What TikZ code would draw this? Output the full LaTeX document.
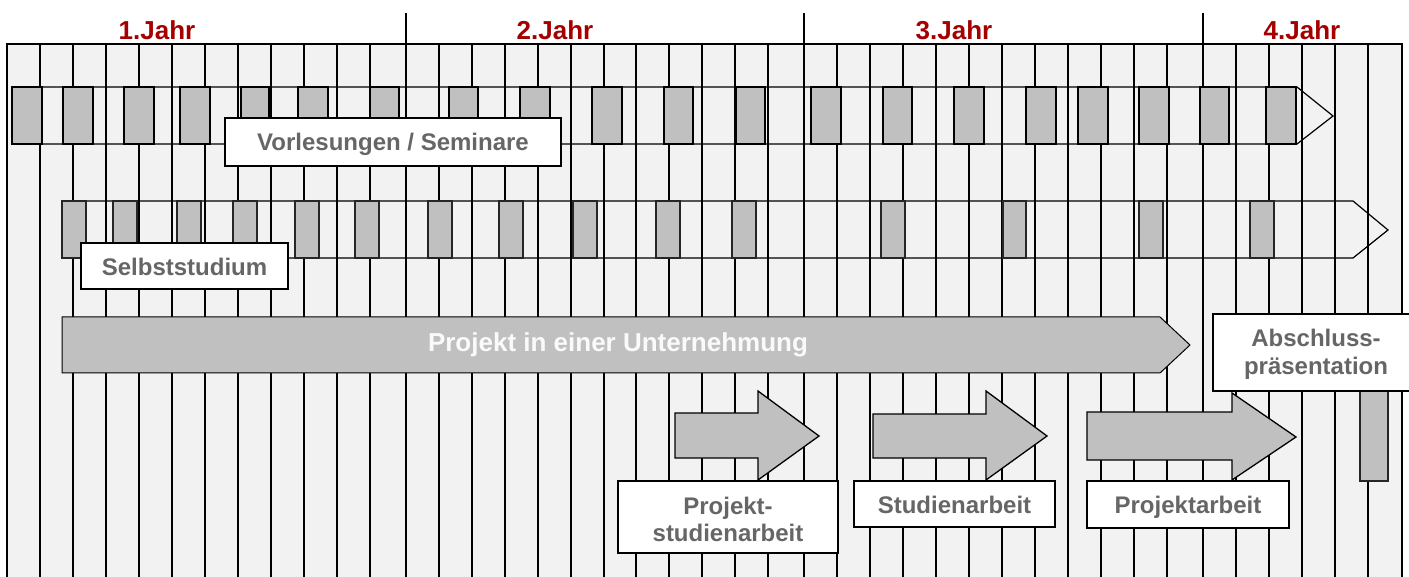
\documentclass[tikz,border=0pt]{standalone}
\usepackage{fontspec}
\setmainfont{Liberation Sans}
\definecolor{bggray}{HTML}{F2F2F2}
\definecolor{boxgray}{HTML}{C0C0C0}
\definecolor{labelgray}{HTML}{666666}
\definecolor{yearred}{HTML}{A50000}
\tikzset{
  gridline/.style={line width=1.5pt},
  bandline/.style={draw=black, line width=1.2pt, line join=miter},
  slotA/.style={fill=boxgray, draw=black, line width=1.8pt},
  slotB/.style={fill=boxgray, draw=black!85, line width=1.5pt},
  lbl/.style={draw=black, fill=white, line width=1.5pt, inner sep=0pt},
  lbltext/.style={text=labelgray, font=\fontsize{24}{27}\selectfont\bfseries, inner sep=0pt, anchor=base},
  yearlbl/.style={text=yearred, font=\fontsize{26}{30}\selectfont\bfseries, inner sep=0pt, anchor=base},
  blockarrow/.style={fill=boxgray, draw=black, line width=1.3pt, line join=miter}
}
\begin{document}
\begin{tikzpicture}[x=1pt,y=-1pt]
\useasboundingbox (0,0) rectangle (1409,577);
\clip (0,0) rectangle (1409,577);
% background grid
\fill[bggray] (7,44) rectangle (1402,600);
\foreach \x in {40,73,106,139,172,205,238,271,304,337,370,439,472,505,538,571,604,636,669,702,735,768,837,870,903,936,969,1002,1035,1068,1101,1134,1167,1236,1269,1302,1335,1368}
  \draw[gridline] (\x,44) -- (\x,600);
\foreach \x in {406,804,1203}
  \draw[gridline] (\x,13) -- (\x,600);
\draw[gridline] (7,600) -- (7,44) -- (1402,44) -- (1402,600);
% year labels
\node[yearlbl] (y1) at (157,39.5) {1.Jahr};
\node[yearlbl] (y2) at (555,39.5) {2.Jahr};
\node[yearlbl] (y3) at (954,39.5) {3.Jahr};
\node[yearlbl] (y4) at (1302,39.5) {4.Jahr};
% row 1 band
\draw[bandline] (12,87) -- (1297,87) -- (1333,116) -- (1297,144) -- (12,144);
\foreach \a/\b in {12/42,63/93,124/154,180/210,241/269,298/328,370/399,449/478,520/550,592/622,664/693,736/765,811/841,883/912,954/984,1026/1056,1078/1108,1139/1169,1200/1229,1266/1296}
  \draw[slotA] (\a,87) rectangle (\b,144);
% row 2 band
\draw[bandline] (62,201) -- (1353,201) -- (1388,230) -- (1353,258) -- (62,258);
\foreach \a/\b in {62/86,113/137,177/201,233/257,295/319,355/379,428/452,499/523,573/597,656/680,732/756,881/905,1003/1026,1139/1163,1250/1274}
  \draw[slotB] (\a,201) rectangle (\b,258);
% row 3 big arrow
\draw[blockarrow, line width=1pt] (62,317) -- (1160,317) -- (1190,345) -- (1160,373) -- (62,373) -- cycle;
\node[text=white!60!bggray, font=\fontsize{26}{30}\selectfont\bfseries, inner sep=0pt] (proj) at (618,345) {Projekt in einer Unternehmung};
% block arrows
\draw[blockarrow] (675,413) -- (758,413) -- (758,391) -- (819,436) -- (758,480) -- (758,458) -- (675,458) -- cycle;
\draw[blockarrow] (873,414) -- (986,414) -- (986,391) -- (1047,436) -- (986,480) -- (986,458) -- (873,458) -- cycle;
\draw[blockarrow] (1087,412) -- (1232,412) -- (1232,393) -- (1296,437) -- (1232,480) -- (1232,460) -- (1087,460) -- cycle;
% final slot
\draw[slotB] (1360,391) rectangle (1388,481);
% labels
\node[lbl, minimum width=336pt, minimum height=48pt] (vs) at (393,142) {};
\node[lbltext] (vst) at (393,150.5) {Vorlesungen / Seminare};
\node[lbl, minimum width=207pt, minimum height=46pt] (ss) at (184.5,266) {};
\node[lbltext] (sst) at (184.5,275.5) {Selbststudium};
\node[lbl, minimum width=206pt, minimum height=77pt] (ap) at (1316,352.5) {};
\node[lbltext] (ap1) at (1316,347) {Abschluss-};
\node[lbltext] (ap2) at (1316,374) {präsentation};
\node[lbl, minimum width=220pt, minimum height=72pt] (psa) at (728,517) {};
\node[lbltext] (psa1) at (728,514) {Projekt-};
\node[lbltext] (psa2) at (728,541.5) {studienarbeit};
\node[lbl, minimum width=201pt, minimum height=46pt] (sa) at (954.5,504) {};
\node[lbltext] (sat) at (954.5,513.5) {Studienarbeit};
\node[lbl, minimum width=202pt, minimum height=47pt] (pa) at (1188,504.5) {};
\node[lbltext] (pat) at (1188,513.5) {Projektarbeit};
\end{tikzpicture}
\end{document}
